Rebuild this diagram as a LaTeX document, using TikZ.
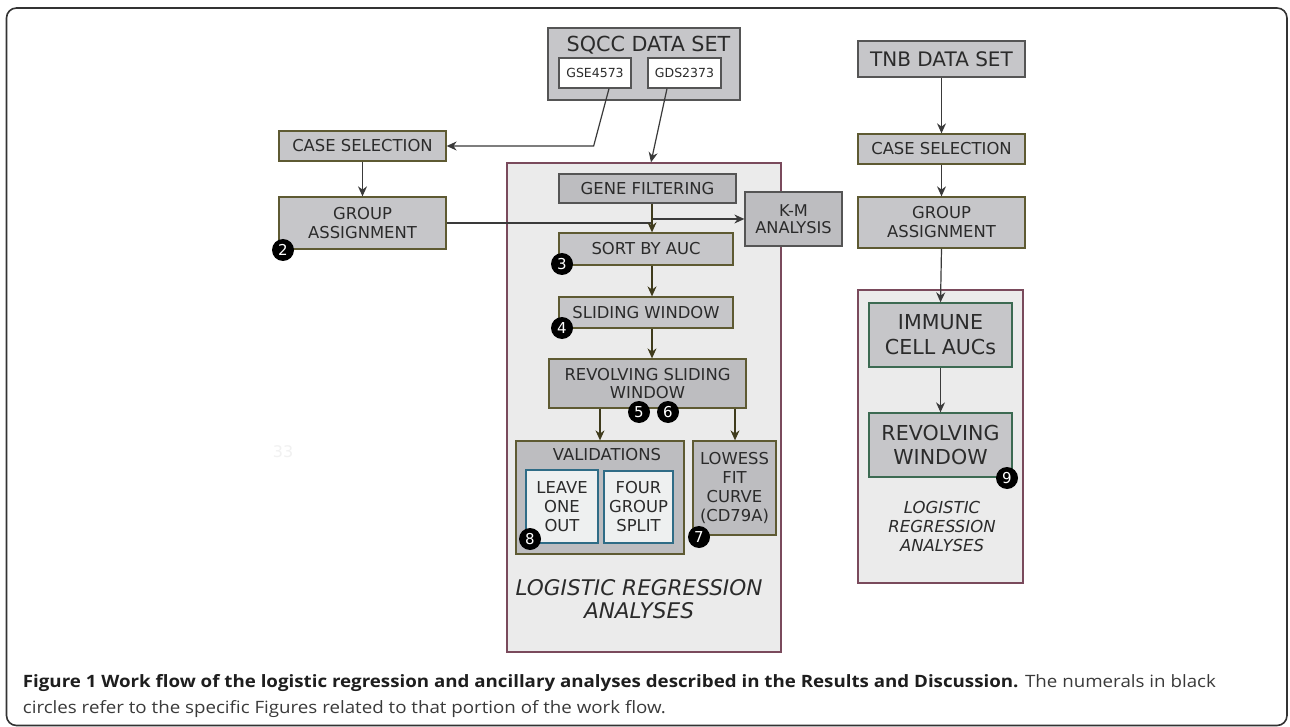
\documentclass[tikz,border=0pt]{standalone}
\usepackage{fontspec}
\setmainfont{DejaVu Sans}
\newfontfamily\capfont{Open Sans}
\usetikzlibrary{arrows.meta,calc}
\definecolor{boxfill}{HTML}{C6C6C9}
\definecolor{boxfillb}{HTML}{BDBDC0}
\definecolor{oliveline}{HTML}{5E5A32}
\definecolor{grayline}{HTML}{555555}
\definecolor{panelfill}{HTML}{EBEBEB}
\definecolor{panelline}{HTML}{7A4A5C}
\definecolor{greenline}{HTML}{3C6A52}
\definecolor{tealline}{HTML}{2F6C86}
\definecolor{innerfill}{HTML}{EEF0F0}
\definecolor{arrowgray}{HTML}{3A3A3A}
\definecolor{arrowolive}{HTML}{3F3B1C}
\definecolor{txt}{HTML}{2B2B2B}
\definecolor{capbold}{HTML}{1E1E1E}
\definecolor{capreg}{HTML}{3A3A3A}
\definecolor{framec}{HTML}{333333}
\definecolor{faint}{HTML}{F1F1F1}
\newsavebox\capA
\newsavebox\capB
\newlength\capw
\begin{document}
\sbox\capA{\capfont\fontsize{17}{20}\selectfont{\color{capbold}\textbf{Figure 1 Work flow of the logistic regression and ancillary analyses described in the Results and Discussion.}}\space{\color{capreg}The numerals in black}}%
\sbox\capB{\capfont\fontsize{17}{20}\selectfont\color{capreg}circles refer to the specific Figures related to that portion of the work flow.}%
\setlength\capw{\wd\capA}%
\pgfmathsetmacro\capscale{1193/\capw}%
\begin{tikzpicture}[x=1pt,y=-1pt,
  box/.style={draw=#1, fill=boxfill, line width=1.3pt, inner sep=0pt, align=center, text=txt,
    font=\fontsize{16.4}{19}\selectfont},
  box/.default=oliveline,
  panel/.style={draw=panelline, fill=panelfill, line width=1.4pt, inner sep=0pt},
  inner/.style={draw=tealline, fill=innerfill, line width=1.3pt, inner sep=0pt, align=center, text=txt,
    font=\fontsize{16.4}{19}\selectfont},
  small/.style={draw=grayline, fill=white, line width=1.2pt, inner sep=0pt, text=txt,
    font=\fontsize{12.5}{14}\selectfont},
  badge/.style={circle, fill=black, text=white, minimum size=22pt, inner sep=0pt,
    font=\fontsize{15}{15}\selectfont},
  arr/.style={draw=arrowgray, line width=1.2pt, -{Stealth[length=10pt,width=9pt]}},
  arro/.style={draw=arrowolive, line width=1.2pt, -{Stealth[length=10pt,width=9pt]}},
  ital/.style={align=center, text=txt, font=\itshape},
]
\useasboundingbox (0,0) rectangle (1290,727);
\fill[white] (0,0) rectangle (1290,727);
% outer frame
\draw[framec, line width=1.6pt, rounded corners=10pt] (6.5,8) rectangle (1287,725.5);

% panels
\node[panel, minimum width=274pt, minimum height=489pt] (panel1) at (644,407.5) {};
\node[panel, minimum width=165pt, minimum height=293pt] (panel2) at (940.5,436.5) {};

% SQCC data set
\node[box=grayline, minimum width=192pt, minimum height=72pt] (sqcc) at (644,64) {};
\node[text=txt, font=\fontsize{20.7}{24}\selectfont] (sqcct) at (648.5,45) {SQCC DATA SET};
\node[small, minimum width=72pt, minimum height=30pt] (gse) at (595,73) {GSE4573};
\node[small, minimum width=73pt, minimum height=30pt] (gds) at (684.5,73) {GDS2373};

% left column
\node[box, minimum width=167pt, minimum height=30pt] (cs1) at (362.5,146) {CASE SELECTION};
\node[box, minimum width=167pt, minimum height=52pt] (ga1) at (362.5,223) {GROUP\\ASSIGNMENT};

% logistic regression panel contents
\node[box=grayline, fill=boxfillb, minimum width=177pt, minimum height=29pt] (gf) at (647.5,188.5) {GENE FILTERING};
\node[box=grayline, fill=boxfillb, minimum width=97pt, minimum height=54pt, font=\fontsize{16.2}{17.5}\selectfont] (km) at (793.5,219) {K-M\\ANALYSIS};
\node[box, minimum width=174pt, minimum height=32pt] (sort) at (646,249) {SORT BY AUC};
\node[box, minimum width=174pt, minimum height=31pt] (slide) at (646,312.5) {SLIDING WINDOW};
\node[box, fill=boxfillb, minimum width=197pt, minimum height=49pt, font=\fontsize{16.4}{18}\selectfont] (rev) at (647.5,383.5) {REVOLVING SLIDING\\WINDOW};
\node[box, fill=boxfillb, minimum width=168pt, minimum height=113pt] (val) at (600,497.5) {};
\node[text=txt, font=\fontsize{16.4}{19}\selectfont] (valt) at (607,455) {VALIDATIONS};
\node[inner, minimum width=72pt, minimum height=73pt] (loo) at (562,506.5) {LEAVE\\ONE\\OUT};
\node[inner, minimum width=69pt, minimum height=72pt] (fgs) at (638.5,507) {FOUR\\GROUP\\SPLIT};
\node[box, fill=boxfillb, minimum width=83pt, minimum height=94pt] (low) at (734.5,488) {LOWESS\\FIT\\CURVE\\(CD79A)};
\node[ital, font=\fontsize{21.6}{23}\selectfont\itshape] (lr1) at (639,599) {LOGISTIC REGRESSION\\ANALYSES};

% TNB column
\node[box=grayline, minimum width=167pt, minimum height=36pt, font=\fontsize{20}{22}\selectfont] (tnb) at (941.5,59) {TNB DATA SET};
\node[box, minimum width=167pt, minimum height=30pt] (cs2) at (941.5,149) {CASE SELECTION};
\node[box, minimum width=167pt, minimum height=51pt] (ga2) at (941.5,222.5) {GROUP\\ASSIGNMENT};
\node[box=greenline, minimum width=143pt, minimum height=64pt, font=\fontsize{20.6}{25}\selectfont] (imm) at (940.5,335) {IMMUNE\\CELL AUCs};
\node[box=greenline, minimum width=143pt, minimum height=64pt, font=\fontsize{20.6}{24}\selectfont] (rw) at (940.5,445) {REVOLVING\\WINDOW};
\node[ital, font=\fontsize{16.5}{19}\selectfont\itshape] (lr2) at (942,526) {LOGISTIC\\REGRESSION\\ANALYSES};

% faint text
\node[text=faint, font=\fontsize{16}{18}\selectfont] (ft) at (283,452) {33};

% connectors
\coordinate (colA) at (652,0);
\coordinate (colB) at (600,0);
\coordinate (colC) at (735,0);
\draw[arr] ($(gse.south)+(14,0)$) -- ($(cs1.east)+(147,0)$) -- (cs1.east);
\draw[arr] ($(gds.south)+(-17.5,0)$) -- ($(panel1.north)+(7,0)$);
\draw[arr] (cs1.south) -- (ga1.north);
\draw[arr] (ga1.east) -- (ga1.east -| colA) -- ($(colA |- km.west)$) -- (km.west);
\draw[arro] (gf.south -| colA) -- (sort.north -| colA);
\draw[arro] (sort.south -| colA) -- (slide.north -| colA);
\draw[arro] (slide.south -| colA) -- (rev.north -| colA);
\draw[arro] (rev.south -| colB) -- (val.north -| colB);
\draw[arro] (rev.south -| colC) -- (low.north -| colC);
\draw[arr] (tnb.south) -- (cs2.north);
\draw[arr] (cs2.south) -- (ga2.north);
\draw[arr] (ga2.south) -- (imm.north);
\draw[arr] (imm.south) -- (rw.north);

% badges
\node[badge] (b2) at (283,250) {2};
\node[badge] (b3) at (562,264) {3};
\node[badge] (b4) at (562,328) {4};
\node[badge] (b5) at (639,412) {5};
\node[badge] (b6) at (668,412) {6};
\node[badge] (b7) at (699,537) {7};
\node[badge] (b8) at (530,539) {8};
\node[badge] (b9) at (1007,478) {9};

% caption
\node[anchor=base west, inner sep=0pt] (cap1) at (22.7,687) {\scalebox{\capscale}[1]{\usebox\capA}};
\node[anchor=base west, inner sep=0pt] (cap2) at (22.7,713) {\scalebox{\capscale}[1]{\usebox\capB}};
\end{tikzpicture}
\end{document}
